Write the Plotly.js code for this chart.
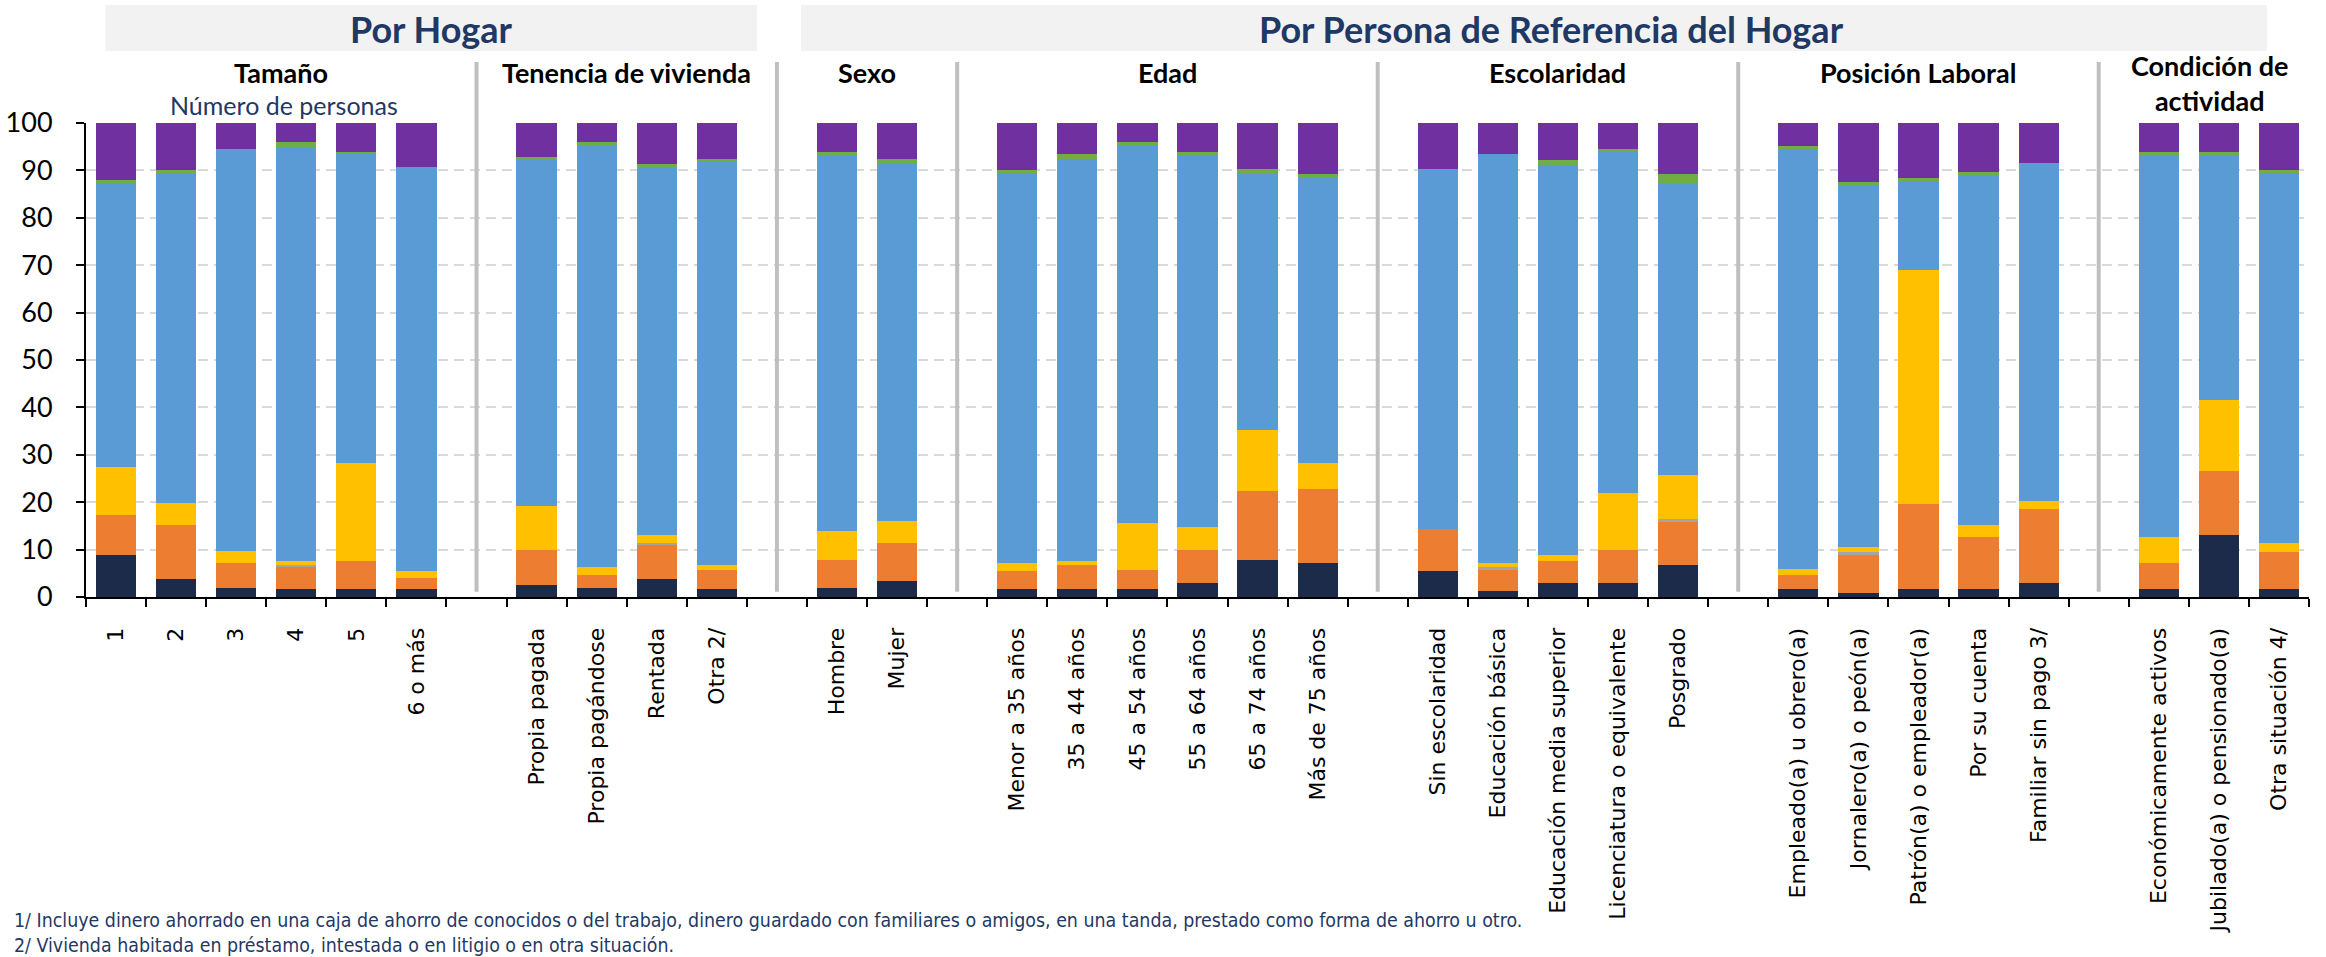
<!DOCTYPE html>
<html><head><meta charset="utf-8">
<script src="https://cdn.plot.ly/plotly-3.0.1.min.js"></script>
<style>html,body{margin:0;padding:0;background:#fff}#chart{width:2326px;height:957px}</style>
</head><body><div id="chart"></div>
<script>
// ---- Data ----
const groupNames = ["Tamaño", "Tenencia de vivienda", "Sexo", "Edad", "Escolaridad", "Posición Laboral", "Condición de<br>actividad"];
const groupSizes = [6, 4, 2, 6, 5, 5, 3];
const categories = [
  "1", "2", "3", "4", "5", "6 o más",
  "Propia pagada", "Propia pagándose", "Rentada", "Otra 2/",
  "Hombre", "Mujer",
  "Menor a 35 años", "35 a 44 años", "45 a 54 años", "55 a 64 años", "65 a 74 años", "Más de 75 años",
  "Sin escolaridad", "Educación básica", "Educación media superior", "Licenciatura o equivalente", "Posgrado",
  "Empleado(a) u obrero(a)", "Jornalero(a) o peón(a)", "Patrón(a) o empleador(a)", "Por su cuenta", "Familiar sin pago 3/",
  "Económicamente activos", "Jubilado(a) o pensionado(a)", "Otra situación 4/"
];
const serie1 = [8.8, 3.7, 2.0, 1.6, 1.6, 1.6, 2.5, 2.0, 3.7, 1.6, 2.0, 3.3, 1.6, 1.6, 1.6, 2.9, 7.9, 7.1, 5.4, 1.2, 2.9, 2.9, 6.7, 1.6, 0.8, 1.6, 1.6, 2.9, 1.6, 13.0, 1.6];
const serie2 = [8.4, 11.4, 5.1, 4.7, 5.9, 2.5, 7.5, 2.6, 7.2, 4.2, 5.9, 8.0, 3.8, 5.1, 4.2, 7.1, 14.4, 15.6, 8.9, 4.6, 4.6, 7.1, 9.2, 3.0, 8.0, 18.1, 11.0, 15.6, 5.5, 13.5, 8.0];
const serie3 = [0, 0, 0, 0.4, 0, 0, 0, 0, 0.4, 0, 0, 0, 0, 0, 0, 0, 0, 0, 0, 0.5, 0, 0, 0.5, 0, 0.8, 0, 0, 0, 0, 0, 0];
const serie4 = [10.2, 4.7, 2.7, 1.0, 20.7, 1.4, 9.3, 1.7, 1.8, 1.0, 6.0, 4.7, 1.8, 0.9, 9.8, 4.8, 13.0, 5.5, 0, 0.9, 1.3, 11.9, 9.3, 1.3, 0.9, 49.3, 2.5, 1.7, 5.5, 15.1, 1.8];
const serie5 = [60.0, 69.7, 84.7, 87.2, 65.5, 85.3, 73.1, 89.1, 77.6, 85.2, 79.4, 75.6, 82.3, 84.8, 79.8, 78.5, 54.2, 60.4, 75.7, 86.2, 82.4, 72.2, 61.7, 88.6, 76.4, 18.8, 74.0, 71.4, 80.7, 51.7, 78.1];
const serie6 = [0.5, 0.5, 0.1, 1.0, 0.1, 0.0, 0.5, 0.5, 0.6, 0.5, 0.5, 0.9, 0.5, 1.0, 0.5, 0.5, 0.9, 0.6, 0.4, 0.1, 0.9, 0.5, 1.8, 0.6, 0.6, 0.5, 0.5, 0.0, 0.5, 0.5, 0.5];
const serie7 = [12.1, 10.0, 5.5, 4.1, 6.2, 9.2, 7.1, 4.1, 8.7, 7.5, 6.2, 7.5, 10.0, 6.6, 4.1, 6.2, 9.6, 10.8, 9.6, 6.6, 7.9, 5.4, 10.8, 4.9, 12.5, 11.7, 10.4, 8.4, 6.2, 6.2, 10.0];
const seriesNames = ["Serie 1", "Serie 2", "Serie 3", "Serie 4", "Serie 5", "Serie 6", "Serie 7"];
const seriesColors = ["#1B2B49", "#ED7D31", "#A5A5A5", "#FFC000", "#5B9BD5", "#70AD47", "#7030A0"];
const footnotes = [
  "1/ Incluye dinero ahorrado en una caja de ahorro de conocidos o del trabajo, dinero guardado con familiares o amigos, en una tanda, prestado como forma de ahorro u otro.",
  "2/ Vivienda habitada en préstamo, intestada o en litigio o en otra situación."
];
const headerTop = ["Por Hogar", "Por Persona de Referencia del Hogar"];

// ---- Build category axis with blank gap slots between groups ----
const xCats = [];
const catIndex = [];
const gapPos = [];
let k = 0;
groupSizes.forEach((n, g) => {
  for (let i = 0; i < n; i++) { xCats.push(categories[k]); catIndex.push(k); k++; }
  if (g < groupSizes.length - 1) { gapPos.push(xCats.length); xCats.push(" ".repeat(g + 1)); catIndex.push(-1); }
});
const nSlots = xCats.length;
const allSeries = [serie1, serie2, serie3, serie4, serie5, serie6, serie7];

const traces = allSeries.map((s, i) => ({
  type: "bar",
  name: seriesNames[i],
  x: xCats,
  y: catIndex.map(j => j < 0 ? null : s[j]),
  marker: { color: seriesColors[i], line: { width: 0 } },
  hoverinfo: "skip"
}));

// ---- Layout geometry (pixels -> paper) ----
const PT = 123, PB = 597.3, PH = PB - PT;
const py = v => (PB - v) / PH;

const shapes = [];
const annotations = [];
gapPos.forEach(gp => shapes.push({
  type: "line", xref: "x", yref: "paper", x0: gp, x1: gp, y0: py(592), y1: py(62),
  line: { color: "#BFBFBF", width: 4 }
}));
const boxes = [[-0.18, 10.67], [11.40, 35.80]];
boxes.forEach((b, i) => {
  shapes.push({ type: "rect", xref: "x", yref: "paper", x0: b[0], x1: b[1], y0: py(51), y1: py(5),
    fillcolor: "#F2F2F2", line: { width: 0 }, layer: "below" });
  annotations.push({ xref: "x", yref: "paper", x: (b[0] + b[1]) / 2 + (i === 1 ? 0.3 : 0), y: py(29),
    text: "<b>" + headerTop[i] + "</b>", showarrow: false, xanchor: "center", yanchor: "middle",
    font: { family: "Lato, sans-serif", size: 36, color: "#1F3864" } });
});
const bounds = [-0.5, ...gapPos, nSlots - 0.5];
groupNames.forEach((name, g) => {
  const cx = (bounds[g] + bounds[g + 1]) / 2;
  const twoLine = name.indexOf("<br>") >= 0;
  annotations.push({ xref: "x", yref: "paper", x: cx + (twoLine ? 0.1 : 0), y: twoLine ? py(83) : py(72),
    text: "<b>" + name + "</b>", showarrow: false, xanchor: "center", yanchor: "middle",
    font: { family: "Lato, sans-serif", size: 27, color: "#000000" } });
});
annotations.push({ xref: "x", yref: "paper", x: (bounds[0] + bounds[1]) / 2 + 0.05, y: py(105),
  text: "Número de personas", showarrow: false, xanchor: "center", yanchor: "middle",
  font: { family: "Lato, sans-serif", size: 25, color: "#1F3864" } });
footnotes.forEach((t, i) => annotations.push({ xref: "paper", yref: "paper", x: (12 - 86) / 2223, y: py(921 + i * 25),
  text: t, showarrow: false, xanchor: "left", yanchor: "middle",
  font: { family: "'DejaVu Sans Condensed', 'DejaVu Sans', sans-serif", size: 19.4, color: "#1F3864" } }));

const layout = {
  width: 2326, height: 957,
  margin: { l: 86, r: 17, t: PT, b: 957 - PB },
  paper_bgcolor: "#FFFFFF", plot_bgcolor: "#FFFFFF",
  barmode: "stack", bargap: 0.33,
  showlegend: false,
  xaxis: {
    type: "category", categoryorder: "array", categoryarray: xCats,
    range: [-0.5, nSlots - 0.5],
    showline: true, linecolor: "#000000", linewidth: 2,
    ticks: "outside", tickson: "boundaries", ticklen: 8, tickwidth: 2, tickcolor: "#000000",
    tickangle: -90, showgrid: false, zeroline: false,
    tickfont: { family: "'DejaVu Sans', sans-serif", size: 22, color: "#000000" },
    ticklabelstandoff: 20
  },
  yaxis: {
    range: [0, 100], tickmode: "array", tickvals: [0, 10, 20, 30, 40, 50, 60, 70, 80, 90, 100],
    showline: true, linecolor: "#000000", linewidth: 2,
    ticks: "outside", ticklen: 8, tickwidth: 2, tickcolor: "#000000",
    showgrid: true, gridcolor: "#D9D9D9", gridwidth: 2, griddash: "10px,6px",
    zeroline: false,
    tickfont: { family: "Lato, sans-serif", size: 27, color: "#000000" },
    ticklabelstandoff: 18
  },
  shapes: shapes,
  annotations: annotations
};

Plotly.newPlot("chart", traces, layout, { displayModeBar: false, staticPlot: true });
</script>
</body></html>
